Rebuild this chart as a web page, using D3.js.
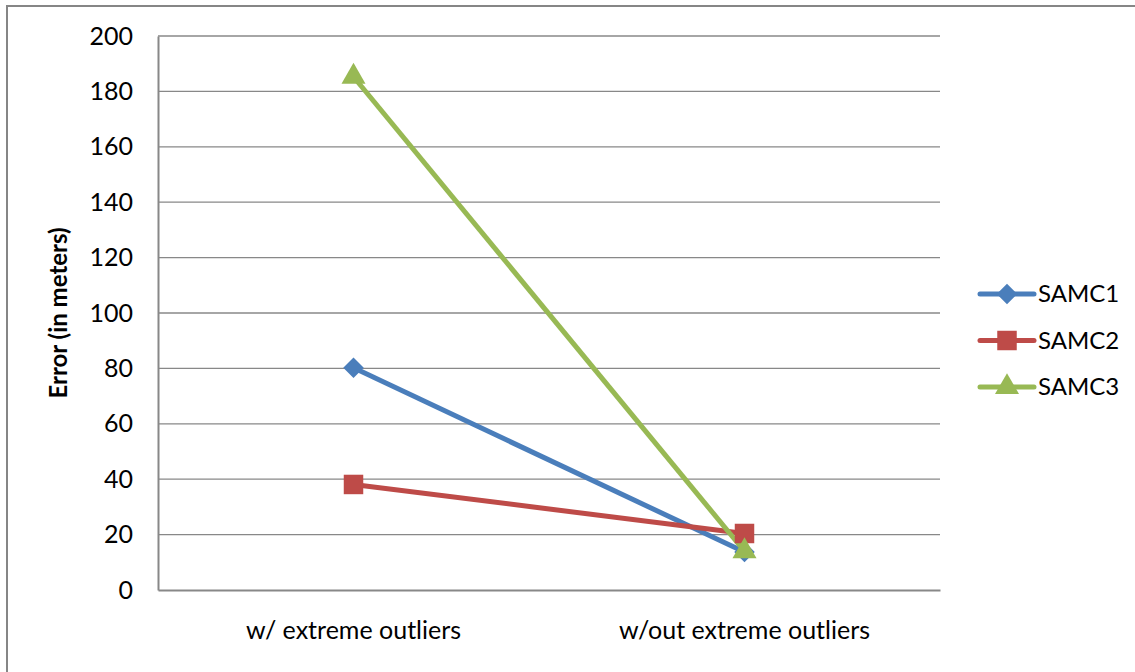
<!DOCTYPE html>
<html>
<head>
<meta charset="utf-8">
<script src="https://cdn.jsdelivr.net/npm/d3@7"></script>
<style>
  html, body { margin: 0; padding: 0; background: #fff; }
  svg { display: block; font-family: Lato, "Open Sans", sans-serif; }
</style>
</head>
<body>
<svg id="chart" width="1135" height="672"></svg>
<script>
// Error per configuration, with and without extreme outliers
const categories = ["w/ extreme outliers", "w/out extreme outliers"];
const seriesNames = ["SAMC1", "SAMC2", "SAMC3"];
const samc1 = [80.2, 13.7];
const samc2 = [38.1, 20.4];
const samc3 = [185.3, 14.0];
const yTicks = [0, 20, 40, 60, 80, 100, 120, 140, 160, 180, 200];
const yTitle = "Error (in meters)";

const seriesValues = [samc1, samc2, samc3];
const colors = ["#4A7EBB", "#BE4B48", "#98B954"];

// marker shapes: rotated square (diamond), square, triangle
function markerPath(s) {
  if (s === 0) return d3.symbol().type(d3.symbolSquare).size(210)();
  if (s === 1) return d3.symbol().type(d3.symbolSquare).size(380)();
  return d3.symbol().type(d3.symbolTriangle).size(250)();
}
const markerRotate = [45, 0, 0];

const svg = d3.select("#chart");
const plot = { left: 158, top: 36, right: 940, bottom: 590 };
const fontSize = 25;

// outer chart frame
svg.append("rect")
  .attr("x", 7).attr("y", 6).attr("width", 1140).attr("height", 680)
  .attr("fill", "none").attr("stroke", "#868686").attr("stroke-width", 2);

const x = d3.scaleBand().domain(categories).range([plot.left, plot.right]);
const y = d3.scaleLinear().domain([0, 200]).range([plot.bottom, plot.top]);

// horizontal gridlines
svg.append("g")
  .selectAll("line")
  .data(yTicks.filter(t => t > 0))
  .join("line")
  .attr("x1", plot.left).attr("x2", plot.right)
  .attr("y1", d => y(d)).attr("y2", d => y(d))
  .attr("stroke", "#888").attr("stroke-width", 1.3);

// y axis
const yAxis = svg.append("g")
  .attr("transform", `translate(${plot.left},0)`)
  .call(d3.axisLeft(y).tickValues(yTicks).tickSize(0).tickPadding(25));
yAxis.select(".domain").attr("stroke", "#888").attr("stroke-width", 2);
yAxis.selectAll("text").attr("font-size", fontSize).attr("fill", "#000")
  .attr("font-family", "Lato, sans-serif");

// x axis
const xAxis = svg.append("g")
  .attr("transform", `translate(0,${plot.bottom})`)
  .call(d3.axisBottom(x).tickSize(0).tickPadding(31));
xAxis.select(".domain").attr("stroke", "#888").attr("stroke-width", 2);
xAxis.selectAll("text").attr("font-size", fontSize).attr("fill", "#000")
  .attr("font-family", "Lato, sans-serif");

// y axis title
svg.append("text")
  .attr("transform", `translate(67,${(plot.top + plot.bottom) / 2}) rotate(-90)`)
  .attr("text-anchor", "middle")
  .attr("font-size", 24).attr("font-weight", "bold")
  .text(yTitle);

// series lines and markers
const cx = c => x(c) + x.bandwidth() / 2;
const line = d3.line().x((d, i) => cx(categories[i])).y(d => y(d));

seriesValues.forEach((vals, s) => {
  svg.append("path")
    .datum(vals)
    .attr("d", line)
    .attr("fill", "none")
    .attr("stroke", colors[s])
    .attr("stroke-width", 5)
    .attr("stroke-linejoin", "round");
});
seriesValues.forEach((vals, s) => {
  svg.append("g").selectAll("path")
    .data(vals)
    .join("path")
    .attr("transform", (d, i) => `translate(${cx(categories[i])},${y(d)}) rotate(${markerRotate[s]})`)
    .attr("d", markerPath(s))
    .attr("fill", colors[s]);
});

// legend
const legend = svg.append("g").attr("transform", "translate(980,294)");
seriesNames.forEach((name, s) => {
  const g = legend.append("g").attr("transform", `translate(0,${s * 46.5})`);
  g.append("line").attr("x1", 0).attr("x2", 54).attr("y1", 0).attr("y2", 0)
    .attr("stroke", colors[s]).attr("stroke-width", 5).attr("stroke-linecap", "round");
  g.append("path").attr("transform", `translate(27,0) rotate(${markerRotate[s]})`)
    .attr("d", markerPath(s)).attr("fill", colors[s]);
  g.append("text").attr("x", 58).attr("y", 0).attr("dy", "0.35em")
    .attr("font-size", 24).text(name);
});
</script>
</body>
</html>
